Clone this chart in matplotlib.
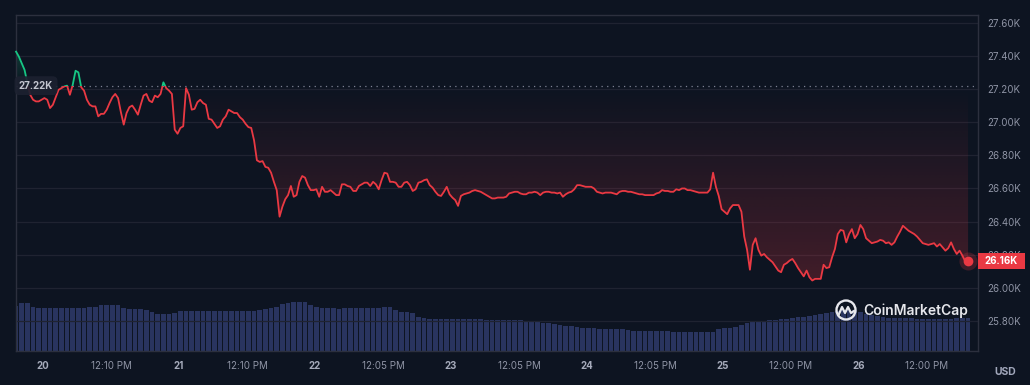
import numpy as np
import pandas as pd
import matplotlib
matplotlib.use("Agg")
import matplotlib.pyplot as plt
import matplotlib.dates as mdates
import matplotlib.transforms as mtransforms
from matplotlib.patches import Polygon, Rectangle, Ellipse
from matplotlib.lines import Line2D

plt.rcParams['font.family'] = ['Inter', 'DejaVu Sans']

# BTC price (USD) every 30 min, first point 19 Sep 19:15
start = '2023-09-19 19:15'
price = [
    27425, 27395, 27355, 27315, 27235, 27165, 27135, 27125, 27125, 27135,
    27145, 27135, 27085, 27105, 27150, 27195, 27205, 27215, 27220, 27165,
    27225, 27310, 27300, 27210, 27190, 27135, 27105, 27095, 27095, 27035,
    27050, 27050, 27075, 27115, 27150, 27170, 27145, 27060, 26985, 27055,
    27090, 27100, 27075, 27045, 27105, 27160, 27170, 27130, 27120, 27160,
    27150, 27170, 27240, 27205, 27190, 27170, 26955, 26930, 26965, 26975,
    27205, 27165, 27075, 27080, 27120, 27135, 27115, 27105, 27020, 27015,
    26990, 26965, 26975, 27015, 27035, 27075, 27065, 27055, 27055, 27030,
    27015, 26990, 26970, 26965, 26890, 26770, 26760, 26765, 26730, 26725,
    26695, 26640, 26590, 26430, 26490, 26535, 26560, 26615, 26550, 26560,
    26640, 26675, 26665, 26620, 26590, 26590, 26595, 26550, 26610, 26580,
    26580, 26590, 26575, 26560, 26560, 26625, 26625, 26615, 26610, 26585,
    26585, 26615, 26625, 26635, 26635, 26615, 26640, 26625, 26595, 26650,
    26695, 26690, 26640, 26640, 26635, 26610, 26610, 26635, 26640, 26620,
    26585, 26595, 26635, 26640, 26650, 26655, 26620, 26605, 26580, 26560,
    26555, 26580, 26610, 26565, 26545, 26530, 26495, 26555, 26565, 26570,
    26575, 26585, 26590, 26585, 26580, 26570, 26560, 26550, 26540, 26540,
    26545, 26545, 26545, 26550, 26570, 26575, 26580, 26580, 26570, 26565,
    26565, 26575, 26575, 26580, 26575, 26560, 26575, 26580, 26580, 26575,
    26575, 26570, 26575, 26550, 26565, 26575, 26580, 26595, 26620, 26620,
    26615, 26610, 26610, 26610, 26600, 26580, 26575, 26570, 26575, 26575,
    26575, 26570, 26565, 26580, 26585, 26585, 26580, 26580, 26575, 26570,
    26565, 26565, 26560, 26560, 26560, 26560, 26570, 26575, 26590, 26585,
    26585, 26580, 26580, 26595, 26590, 26600, 26600, 26590, 26590, 26585,
    26580, 26575, 26575, 26575, 26575, 26595, 26695, 26610, 26555, 26475,
    26460, 26445, 26480, 26500, 26500, 26500, 26460, 26310, 26230, 26110,
    26260, 26300, 26230, 26195, 26205, 26185, 26170, 26155, 26130, 26105,
    26095, 26140, 26150, 26165, 26175, 26150, 26120, 26095, 26070, 26105,
    26065, 26045, 26055, 26055, 26055, 26140, 26120, 26125, 26185, 26235,
    26325, 26350, 26345, 26275, 26325, 26355, 26300, 26325, 26380, 26355,
    26300, 26285, 26270, 26275, 26280, 26290, 26285, 26270, 26275, 26260,
    26275, 26310, 26340, 26375, 26360, 26345, 26335, 26325, 26310, 26290,
    26270, 26265, 26260, 26265, 26270, 26250, 26265, 26245, 26225, 26240,
    26275, 26235, 26205, 26225, 26195, 26160, 26160,
]

# 24h volume, billions USD, hourly from the same start
volume_b = (
    [13.5, 14.3, 14.3, 13.1] + [12.8] * 6 + [13.0] * 3 + [13.3] * 2 + [13.8] * 4
    + [13.0, 12.7, 12.5, 12.5, 12.3, 11.8, 11.2, 11.0, 11.1, 11.4]
    + [12.1] * 7 + [11.9] * 7
    + [12.2, 12.5, 12.9, 13.3, 14.1, 14.4] + [14.6] * 3
    + [13.8, 13.1] + [12.8] * 3 + [12.5] + [12.8] * 7
    + [13.1, 13.1, 12.4, 11.8, 11.6, 11.3, 10.2, 9.8] + [9.6] * 10 + [9.3] * 7
    + [9.1, 8.9, 8.7, 8.5, 8.3, 8.1, 7.9, 7.6, 7.4, 7.2, 7.0, 7.0, 6.8]
    + [6.6] * 5 + [6.3] + [6.1] * 5 + [6.1, 6.0] + [5.8] * 8
    + [6.5, 6.8, 6.9, 7.2, 7.8, 8.3, 8.9, 9.0, 9.0, 9.2, 9.3, 9.5, 9.6, 9.8, 10.1,
       10.3, 10.5, 10.7, 11.0, 11.4, 11.7, 12.0, 12.2, 12.3, 12.2, 11.7, 11.1, 10.7, 10.4, 10.1]
    + [10.0] * 5 + [9.5] * 6 + [9.6] + [9.8] * 3
)

base_price = 27220

tick_times = ['2023-09-20 00:00', '2023-09-20 12:10', '2023-09-21 00:00', '2023-09-21 12:10',
              '2023-09-22 00:00', '2023-09-22 12:05', '2023-09-23 00:00', '2023-09-23 12:05',
              '2023-09-24 00:00', '2023-09-24 12:05', '2023-09-25 00:00', '2023-09-25 12:00',
              '2023-09-26 00:00', '2023-09-26 12:00']
tick_labels = ['20', '12:10 PM', '21', '12:10 PM', '22', '12:05 PM', '23', '12:05 PM',
               '24', '12:05 PM', '25', '12:00 PM', '26', '12:00 PM']
y_ticks = [25800, 26000, 26200, 26400, 26600, 26800, 27000, 27200, 27400, 27600]

BG = '#0d1421'
RED = '#ea3943'
GREEN = '#16c784'
GRID = '#1f2331'
SPINE = '#2c303e'
LABEL = '#8f94a5'

times = pd.date_range(start, periods=len(price), freq='30min')
vol_times = pd.date_range(start, periods=len(volume_b), freq='h')
tn = mdates.date2num(times)
price = np.array(price, dtype=float)

fig = plt.figure(figsize=(10.3, 3.85), dpi=100, facecolor=BG)
rect = [16 / 1030, 1 - 351 / 385, 962 / 1030, 336 / 385]

# volume underneath
ax_vol = fig.add_axes(rect, facecolor=BG)
ax_vol.bar(vol_times, volume_b, width=0.85 / 24, color='#29345f', edgecolor='none', zorder=1)
ax_vol.set_ylim(0, 100.8)
ax_vol.axis('off')

ax = fig.add_axes(rect, sharex=ax_vol)
ax.patch.set_alpha(0)

# gradient fills between line and reference price
poly_red = Polygon(np.column_stack([np.r_[tn[0], tn, tn[-1]],
                                    np.r_[base_price, np.minimum(price, base_price), base_price]]),
                   closed=True, transform=ax.transData)
grad = np.zeros((256, 2, 4))
grad[..., :3] = matplotlib.colors.to_rgb(RED)
grad[..., 3] = np.linspace(0.27, 0.0, 256)[:, None]
im = ax.imshow(grad, extent=[tn[0], tn[-1], 25900, base_price], origin='lower',
               aspect='auto', zorder=2, interpolation='bilinear')
im.set_clip_path(poly_red)

poly_green = Polygon(np.column_stack([np.r_[tn[0], tn, tn[-1]],
                                      np.r_[base_price, np.maximum(price, base_price), base_price]]),
                     closed=True, transform=ax.transData)
grad_g = np.zeros((256, 2, 4))
grad_g[..., :3] = matplotlib.colors.to_rgb(GREEN)
grad_g[..., 3] = np.linspace(0.0, 0.25, 256)[:, None]
im_g = ax.imshow(grad_g, extent=[tn[0], tn[-1], base_price, 27450], origin='lower',
                 aspect='auto', zorder=2, interpolation='bilinear')
im_g.set_clip_path(poly_green)

# price line, green above the reference, red below
red_line, = ax.plot(times, price, color=RED, lw=1.3, zorder=4, solid_joinstyle='round')
green_line, = ax.plot(times, price, color=GREEN, lw=1.3, zorder=4, solid_joinstyle='round')
green_line.set_clip_path(Rectangle((tn[0] - 1, base_price), tn[-1] - tn[0] + 2, 5000,
                                   transform=ax.transData))
red_line.set_clip_path(Rectangle((tn[0] - 1, base_price - 5000), tn[-1] - tn[0] + 2, 5000,
                                 transform=ax.transData))

ax.axhline(base_price, color='#7d8294', lw=0.9, ls=(0, (1, 3.5)), zorder=3)

# last point
ax.plot(times[-1], price[-1], 'o', ms=13, color=RED, alpha=0.22, zorder=5, mec='none')
ax.plot(times[-1], price[-1], 'o', ms=7, color=RED, zorder=6, mec='none')

ax.set_xlim(tn[0] - 0.01 / 24, tn[-1] + 1.75 / 24)
ax.set_ylim(25620, 27646)

ax.set_yticks(y_ticks)
ax.set_yticklabels([f'{v / 1000:.2f}K' for v in y_ticks])
ax.yaxis.tick_right()
ax.tick_params(axis='y', length=0, pad=6.5, labelsize=7, labelcolor=LABEL)
ax.grid(axis='y', color=GRID, lw=0.9)
ax.set_axisbelow(True)

ax.set_xticks(mdates.date2num(pd.to_datetime(tick_times)))
ax.set_xticklabels(tick_labels)
ax.tick_params(axis='x', length=0, pad=7, labelsize=7, labelcolor=LABEL)
for lab in ax.get_xticklabels():
    if lab.get_text().isdigit():
        lab.set_fontweight('bold')
        lab.set_color('#a6abbb')

for sp in ax.spines.values():
    sp.set_color(SPINE)
    sp.set_linewidth(1.0)

blend = mtransforms.blended_transform_factory(ax.transAxes, ax.transData)

# current price tag (sits over the 26.20K label like the original)
ax.add_patch(Rectangle((1.0, price[-1] - 48), 47 / 962, 96, transform=blend,
                       facecolor=RED, edgecolor='none', clip_on=False, zorder=7))
ax.text(1.0 + 23.5 / 962, price[-1], f'{price[-1] / 1000:.2f}K', transform=blend,
        ha='center', va='center', color='white', fontsize=7, fontweight='bold', zorder=8)

# reference price tag
ax.text(20 / 962, base_price, f'{base_price / 1000:.2f}K', transform=blend,
        ha='center', va='center', color='#c3c6d0', fontsize=7, fontweight='bold', zorder=8,
        bbox=dict(boxstyle='round,pad=0.45,rounding_size=0.5', fc='#1c2130', ec='none', alpha=0.92))

fig.text(1005 / 1030, 1 - 372 / 385, 'USD', ha='center', va='center',
         fontsize=7.5, fontweight='bold', color='#a1a7bb')

# watermark
def fpx(x, y):
    return x / 1030, 1 - y / 385

wm = '#e6e7ec'
fig.add_artist(Ellipse(fpx(846, 310), 19 / 1030, 19 / 385, transform=fig.transFigure,
                       fill=False, ec=wm, lw=1.7))
wave = [fpx(*p) for p in [(839, 314), (842, 307), (845, 313), (848, 307), (851, 313), (854, 311)]]
fig.add_artist(Line2D([p[0] for p in wave], [p[1] for p in wave], transform=fig.transFigure,
                      color=wm, lw=1.6, solid_joinstyle='round'))
fig.text(*fpx(863, 311), 'CoinMarketCap', ha='left', va='center', fontsize=10,
         fontweight='semibold', color=wm)

fig.savefig('out.png', dpi=100, facecolor=BG)
